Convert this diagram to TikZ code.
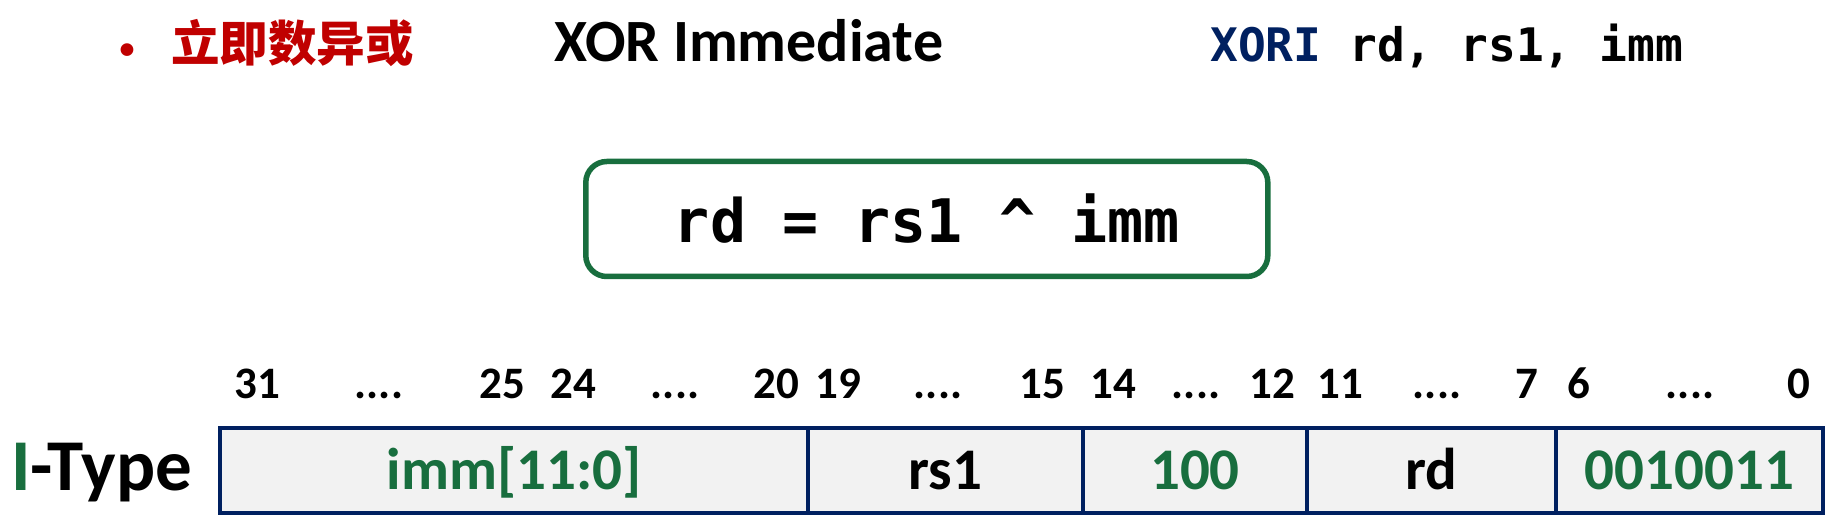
\documentclass[tikz,border=0pt]{standalone}
\usepackage{fontspec}
\setmainfont{Carlito}
\newfontfamily\cjk{Noto Sans CJK SC}
\newfontfamily\mono{DejaVu Sans Mono}
\definecolor{myred}{HTML}{C00000}
\definecolor{mygreen}{HTML}{186E3E}
\definecolor{mynavy}{HTML}{002060}
\definecolor{cellgray}{HTML}{F2F2F2}
\newcommand{\fdots}{....}
\begin{document}
\begin{tikzpicture}[x=1pt,y=1pt,
  title/.style={inner sep=0pt,font=\bfseries\fontsize{60}{62}\selectfont},
  bitnum/.style={inner sep=0pt,anchor=base,font=\bfseries\fontsize{45}{47}\selectfont},
  cell/.style={draw=mynavy,line width=4.5pt,fill=cellgray,inner sep=0pt,
    minimum height=85pt,text height=37pt,text depth=0pt,
    font=\bfseries\fontsize{59}{61}\selectfont},
  formula/.style={draw=mygreen,line width=5.5pt,rounded corners=21pt,fill=white,
    minimum width=682pt,minimum height=115pt,inner sep=0pt,
    font=\mono\bfseries\fontsize{60}{62}\selectfont}
]
\useasboundingbox (0,0) rectangle (1836,528);
% header
\node[inner sep=0pt,text=myred,font=\bfseries\fontsize{30}{32}\selectfont] (bul) at (127,476.5) {•};
\node[inner sep=0pt,anchor=base west,text=myred,font=\cjk\bfseries\fontsize{48.5}{50}\selectfont] (cn) at (171,466) {立即数异或};
\node[title,anchor=base west] (en) at (554,466) {XOR Immediate};
\node[inner sep=0pt,anchor=base west,font=\mono\bfseries\fontsize{46.2}{48}\selectfont] (asm) at (1210,466) {\textcolor{mynavy}{XORI} rd, rs1, imm};
% formula box
\node[formula] (fbox) at (926.8,309) {rd = rs1 \^{} imm};
% bit numbers
\foreach \t/\x [count=\i] in {31/257,\fdots/379,25/502,24/573,\fdots/675,20/776,19/838,\fdots/938,15/1042,14/1113,\fdots/1196,12/1272,11/1340,\fdots/1437,7/1527,6/1579,\fdots/1690,0/1799}{
  \node[bitnum] (b\i) at (\x,130) {\t};
}
% I-Type label
\node[inner sep=0pt,anchor=base west,font=\bfseries\fontsize{73}{75}\selectfont] (itype) at (11,38) {\textcolor{mygreen}{I}-Type};
% fields
\node[cell,minimum width=588pt,text=mygreen] (f1) at (514,57.5) {imm[11:0]};
\node[cell,minimum width=275pt] (f2) at (945.5,57.5) {rs1};
\node[cell,minimum width=224pt,text=mygreen] (f3) at (1195,57.5) {100};
\node[cell,minimum width=249pt] (f4) at (1431.5,57.5) {rd};
\node[cell,minimum width=267pt,text=mygreen] (f5) at (1689.5,57.5) {0010011};
\end{tikzpicture}
\end{document}
